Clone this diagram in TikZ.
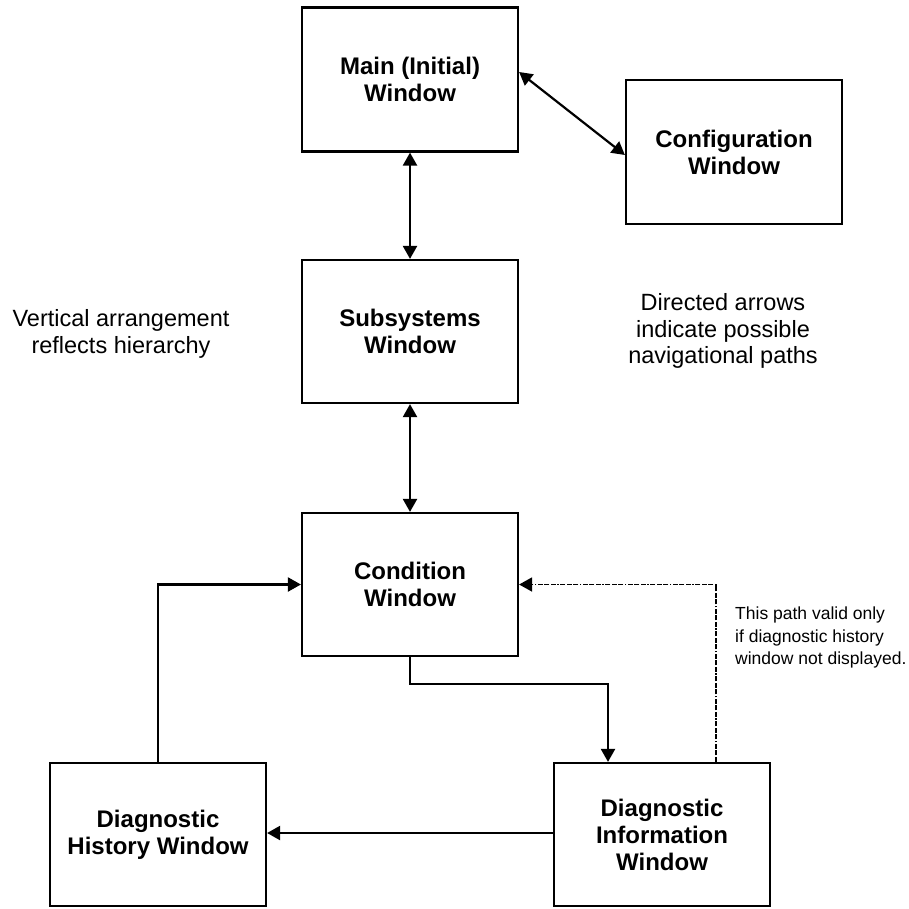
\documentclass[tikz,border=0pt]{standalone}
\usepackage{fontspec}
\setmainfont{Liberation Sans}
\usetikzlibrary{arrows.meta,calc}
\begin{document}
\begin{tikzpicture}[x=1pt,y=-1pt,
  winbox/.style={draw,line width=2.2pt,minimum width=216pt,minimum height=144pt,inner sep=0pt,align=center,font=\fontsize{24}{27}\selectfont\bfseries},
  conn/.style={line width=2.2pt},
  tip/.style={-{Triangle[length=13pt,width=14pt]}},
  dtip/.style={{Triangle[length=13pt,width=14pt]}-{Triangle[length=13pt,width=14pt]}},
  note/.style={inner sep=0pt,align=center,font=\fontsize{23.5}{26.5}\selectfont},
  smallnote/.style={inner sep=0pt,align=left,font=\fontsize{17.5}{22.5}\selectfont}
]
\useasboundingbox (0,0) rectangle (908,909);
\fill[white] (0,0) rectangle (908,909);

\node[winbox] (main) at (410,79.5) {Main (Initial)\\Window};
\node[winbox] (config) at (734,152) {Configuration\\Window};
\node[winbox,minimum height=143pt] (subs) at (410,331.5) {Subsystems\\Window};
\node[winbox,minimum height=143pt] (cond) at (410,584.5) {Condition\\Window};
\node[winbox,minimum height=143pt] (hist) at (158,834.5) {Diagnostic\\History Window};
\node[winbox,minimum height=143pt] (info) at (662,834.5) {Diagnostic\\Information\\Window};

\node[note] (vert) at (121,334) {Vertical arrangement\\reflects hierarchy};
\node[note] (dir) at (723,331) {Directed arrows\\indicate possible\\navigational paths};
\node[smallnote,anchor=west] (valid) at (735,637.5) {This path valid only\\if diagnostic history\\window not displayed.};

\draw[conn,dtip] ([yshift=7.5pt]main.east) -- ([yshift=-3pt]config.west);
\draw[conn,dtip] (main.south) -- (subs.north);
\draw[conn,dtip] (subs.south) -- (cond.north);
\draw[conn,tip] (hist.north) |- (cond.west);
\draw[conn,tip] (cond.south) -- ++(0,27) -| ([xshift=-54pt]info.north);
\draw[conn,tip] ([yshift=1.5pt]info.west) -- ([yshift=1.5pt]hist.east);
\draw[line width=1.7pt,dash pattern=on 5pt off 1.5pt on 5pt off 1.5pt on 5pt off 1.5pt on 1.5pt off 1.5pt,tip] ([xshift=54pt]info.north) |- (cond.east);
\end{tikzpicture}
\end{document}
